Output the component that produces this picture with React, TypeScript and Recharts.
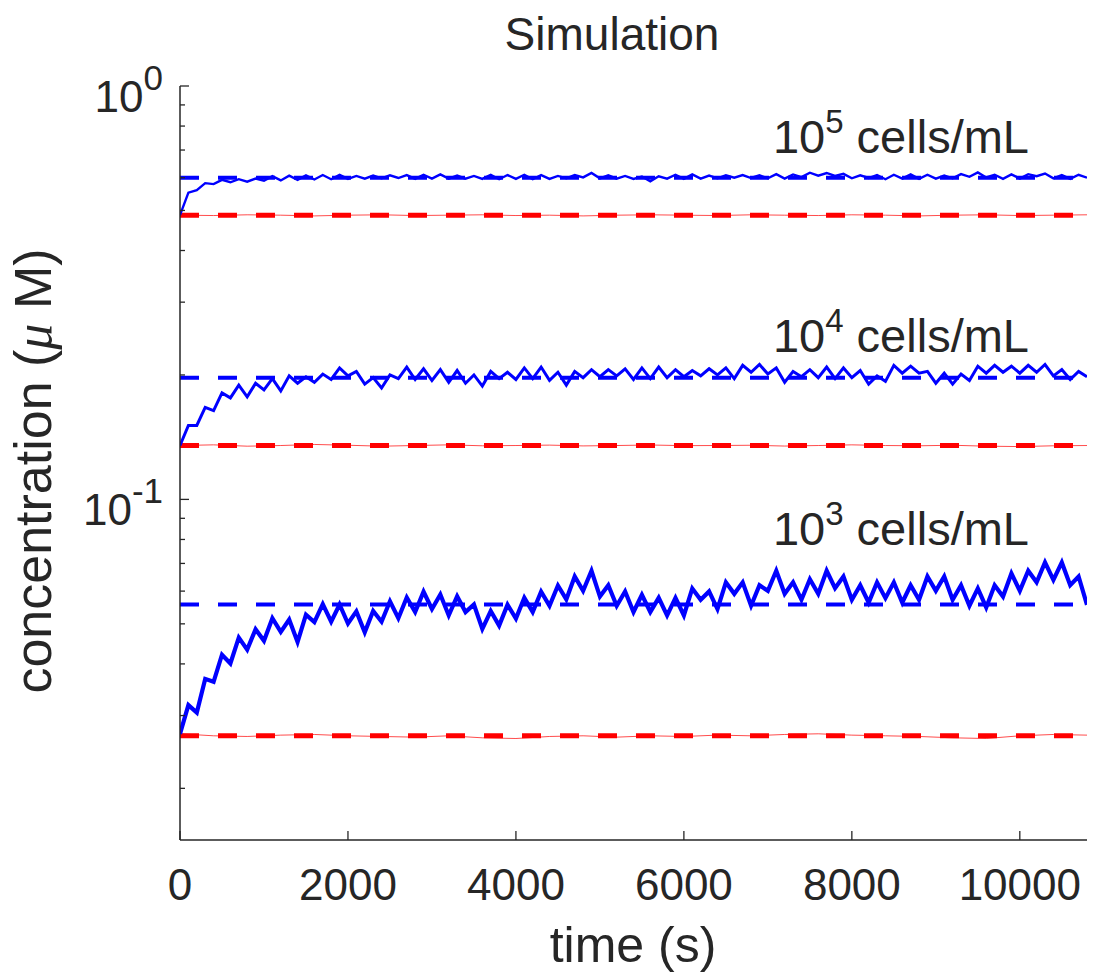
import { LineChart, Line, XAxis, YAxis, ReferenceLine } from 'recharts';

// simulated concentration (uM), sampled every 100 s from 0 to 10800 s
const blue1e3 = [
  0.0271, 0.0318, 0.0305, 0.0368, 0.0362, 0.0421, 0.0401, 0.0463, 0.0433, 0.0485,
  0.0455, 0.0516, 0.0478, 0.0512, 0.0452, 0.0526, 0.0505, 0.0558, 0.0506, 0.0557,
  0.0501, 0.0536, 0.0477, 0.0537, 0.0506, 0.0567, 0.0516, 0.0579, 0.0534, 0.0598,
  0.0543, 0.0589, 0.0524, 0.0583, 0.0534, 0.0557, 0.0486, 0.0537, 0.0495, 0.0556,
  0.0515, 0.0578, 0.0534, 0.0598, 0.0553, 0.0619, 0.0573, 0.0651, 0.0601, 0.0672,
  0.0582, 0.0620, 0.0553, 0.0599, 0.0534, 0.0588, 0.0534, 0.0578, 0.0524, 0.0578,
  0.0524, 0.0609, 0.0572, 0.0599, 0.0543, 0.0630, 0.0591, 0.0630, 0.0553, 0.0620,
  0.0601, 0.0672, 0.0591, 0.0630, 0.0572, 0.0641, 0.0591, 0.0672, 0.0610, 0.0651,
  0.0572, 0.0620, 0.0563, 0.0630, 0.0577, 0.0630, 0.0563, 0.0620, 0.0572, 0.0651,
  0.0601, 0.0651, 0.0572, 0.0620, 0.0553, 0.0609, 0.0548, 0.0620, 0.0582, 0.0662,
  0.0601, 0.0672, 0.0630, 0.0704, 0.0639, 0.0704, 0.0620, 0.0651, 0.0556,
];

const blue1e4 = [
  0.135, 0.151, 0.151, 0.167, 0.164, 0.181, 0.176, 0.189, 0.177, 0.191,
  0.184, 0.196, 0.183, 0.199, 0.191, 0.198, 0.192, 0.201, 0.195, 0.208,
  0.199, 0.204, 0.190, 0.197, 0.186, 0.200, 0.196, 0.209, 0.195, 0.207,
  0.194, 0.206, 0.192, 0.205, 0.191, 0.200, 0.188, 0.204, 0.196, 0.203,
  0.195, 0.208, 0.196, 0.209, 0.194, 0.203, 0.189, 0.204, 0.197, 0.206,
  0.198, 0.206, 0.199, 0.207, 0.195, 0.208, 0.196, 0.209, 0.197, 0.206,
  0.198, 0.205, 0.199, 0.207, 0.200, 0.208, 0.196, 0.211, 0.203, 0.212,
  0.201, 0.208, 0.192, 0.204, 0.198, 0.206, 0.197, 0.209, 0.196, 0.208,
  0.197, 0.205, 0.190, 0.199, 0.193, 0.211, 0.202, 0.210, 0.202, 0.204,
  0.191, 0.202, 0.190, 0.201, 0.194, 0.210, 0.202, 0.211, 0.203, 0.210,
  0.202, 0.211, 0.203, 0.212, 0.199, 0.206, 0.195, 0.204, 0.198,
];

const blue1e5 = [
  0.487, 0.552, 0.560, 0.582, 0.579, 0.593, 0.585, 0.595, 0.587, 0.597,
  0.590, 0.605, 0.591, 0.607, 0.593, 0.608, 0.594, 0.609, 0.595, 0.610,
  0.596, 0.606, 0.597, 0.607, 0.598, 0.608, 0.599, 0.609, 0.596, 0.610,
  0.597, 0.611, 0.597, 0.607, 0.597, 0.606, 0.596, 0.610, 0.595, 0.609,
  0.596, 0.610, 0.595, 0.609, 0.596, 0.606, 0.598, 0.609, 0.601, 0.616,
  0.598, 0.608, 0.597, 0.606, 0.596, 0.604, 0.588, 0.605, 0.597, 0.610,
  0.596, 0.611, 0.597, 0.607, 0.598, 0.608, 0.600, 0.609, 0.599, 0.608,
  0.598, 0.612, 0.597, 0.611, 0.602, 0.617, 0.607, 0.616, 0.606, 0.613,
  0.598, 0.608, 0.599, 0.609, 0.595, 0.610, 0.597, 0.611, 0.596, 0.610,
  0.597, 0.607, 0.598, 0.612, 0.603, 0.618, 0.601, 0.610, 0.596, 0.611,
  0.597, 0.612, 0.605, 0.614, 0.598, 0.609, 0.596, 0.610, 0.600,
];

// red traces sampled every 400 s
const red1e3 = [0.0271, 0.0268, 0.0267, 0.0269, 0.0270, 0.0268, 0.0267, 0.0266, 0.0268, 0.0265, 0.0264, 0.0267, 0.0268, 0.0266, 0.0268, 0.0267, 0.0269, 0.0268, 0.0270, 0.0271, 0.0269, 0.0268, 0.0267, 0.0265, 0.0264, 0.0268, 0.0270, 0.0269];
const red1e4 = [0.135, 0.1355, 0.1345, 0.135, 0.1358, 0.1352, 0.1345, 0.135, 0.1355, 0.1348, 0.135, 0.1353, 0.1347, 0.135, 0.1354, 0.1349, 0.135, 0.1352, 0.1346, 0.135, 0.1355, 0.135, 0.1348, 0.1352, 0.1345, 0.1342, 0.1348, 0.135];
const red1e5 = [0.487, 0.486, 0.488, 0.487, 0.485, 0.487, 0.488, 0.486, 0.487, 0.488, 0.486, 0.487, 0.485, 0.487, 0.488, 0.487, 0.486, 0.488, 0.487, 0.486, 0.488, 0.487, 0.485, 0.487, 0.488, 0.486, 0.487, 0.488];

// steady-state predictions (dashed)
const blueSteady = [0.0557, 0.197, 0.600];
const redSteady = [0.0268, 0.135, 0.487];

const labels = ['3', '4', '5'];
const xTicks = [0, 2000, 4000, 6000, 8000, 10000];
const yMajor = [1, 0.1];
const yMinor = [0.9, 0.8, 0.7, 0.6, 0.5, 0.4, 0.3, 0.2, 0.09, 0.08, 0.07, 0.06, 0.05, 0.04, 0.03, 0.02];

const blueStep = 100;
const redStep = 400;
const toRows = (vals: number[], step: number) => vals.map((c, i) => ({ t: i * step, c }));

const axisColor = '#262626';
const font = '"Liberation Sans", Arial, Helvetica, sans-serif';

const XTick = ({ x, y, payload, top }: any) => (
  <g>
    <line x1={x} y1={y} x2={x} y2={top ? y + 9 : y - 9} stroke={axisColor} strokeWidth={1.3} />
    {!top && (
      <text x={x} y={y + 60} textAnchor="middle" fontSize={44} fontFamily={font} fill={axisColor}>
        {payload.value}
      </text>
    )}
  </g>
);

const YTick = ({ x, y, payload, right }: any) => {
  const major = yMajor.includes(payload.value);
  const len = major ? 9 : 5;
  return (
    <g>
      <line x1={x} y1={y} x2={right ? x - len : x + len} y2={y} stroke={axisColor} strokeWidth={1.3} />
      {!right && major && (
        <text x={x - 17} y={y + 26} textAnchor="end" fontSize={44} fontFamily={font} fill={axisColor}>
          10
          <tspan fontSize={35} dy={-22}>
            {Math.round(Math.log10(payload.value))}
          </tspan>
        </text>
      )}
    </g>
  );
};

const annotY = [545, 352, 153];

export default function App() {
  return (
    <div style={{ position: 'absolute', left: 0, top: 0 }}>
      <LineChart width={1096} height={979} margin={{ top: 86, right: 9, bottom: 0, left: 0 }}>
        <XAxis
          type="number"
          dataKey="t"
          domain={[0, 10800]}
          ticks={xTicks}
          height={139}
          tickSize={0}
          tickMargin={0}
          tickLine={false}
          axisLine={{ stroke: axisColor, strokeWidth: 1.5 }}
          tick={<XTick />}
          allowDataOverflow
        />
        <XAxis
          xAxisId="top"
          orientation="top"
          type="number"
          dataKey="t"
          domain={[0, 10800]}
          ticks={xTicks}
          height={0}
          tickSize={0}
          tickMargin={0}
          tickLine={false}
          axisLine={{ stroke: axisColor, strokeWidth: 1.5 }}
          tick={<XTick top />}
          allowDataOverflow
        />
        <YAxis
          type="number"
          scale="log"
          domain={[0.015, 1]}
          ticks={[...yMajor, ...yMinor]}
          width={180}
          tickSize={0}
          tickMargin={0}
          tickLine={false}
          axisLine={{ stroke: axisColor, strokeWidth: 1.5 }}
          tick={<YTick />}
          allowDataOverflow
          interval={0}
        />
        <YAxis
          yAxisId="right"
          orientation="right"
          type="number"
          scale="log"
          domain={[0.015, 1]}
          ticks={[...yMajor, ...yMinor]}
          width={0}
          tickSize={0}
          tickMargin={0}
          tickLine={false}
          axisLine={{ stroke: axisColor, strokeWidth: 1.5 }}
          tick={<YTick right />}
          allowDataOverflow
          interval={0}
        />

        {blueSteady.map((v, i) => (
          <ReferenceLine key={'bs' + i} y={v} stroke="#0000ff" strokeWidth={4} strokeDasharray="19 19" />
        ))}
        {redSteady.map((v, i) => (
          <ReferenceLine key={'rs' + i} y={v} stroke="#ff0000" strokeWidth={5} strokeDasharray="19 19" />
        ))}

        {[red1e3, red1e4, red1e5].map((vals, i) => (
          <Line
            key={'r' + i}
            data={toRows(vals, redStep)}
            dataKey="c"
            stroke="#ff0000"
            strokeOpacity={0.7}
            strokeWidth={1}
            dot={false}
            isAnimationActive={false}
          />
        ))}
        <Line data={toRows(blue1e3, blueStep)} dataKey="c" stroke="#0000ff" strokeWidth={4.2} strokeLinejoin="miter" dot={false} isAnimationActive={false} />
        <Line data={toRows(blue1e4, blueStep)} dataKey="c" stroke="#0000ff" strokeWidth={3} dot={false} isAnimationActive={false} />
        <Line data={toRows(blue1e5, blueStep)} dataKey="c" stroke="#0000ff" strokeWidth={2.4} dot={false} isAnimationActive={false} />

        <text x={612} y={50} textAnchor="middle" fontSize={46} fontFamily={font} fill={axisColor}>
          Simulation
        </text>
        <text x={633} y={962} textAnchor="middle" fontSize={50} fontFamily={font} fill={axisColor}>
          time (s)
        </text>
        <text
          x={51}
          y={471}
          transform="rotate(-90, 51, 471)"
          textAnchor="middle"
          fontSize={52}
          fontFamily={font}
          fill={axisColor}
        >
          concentration (<tspan fontFamily='"Liberation Serif", serif' fontStyle="italic">μ</tspan> M)
        </text>
        {labels.map((e, i) => (
          <text key={'a' + e} x={1029} y={annotY[i]} textAnchor="end" fontSize={47} fontFamily={font} fill={axisColor}>
            10<tspan fontSize={33} dy={-20}>{e}</tspan>
            <tspan dy={20}> cells/mL</tspan>
          </text>
        ))}
      </LineChart>
    </div>
  );
}
